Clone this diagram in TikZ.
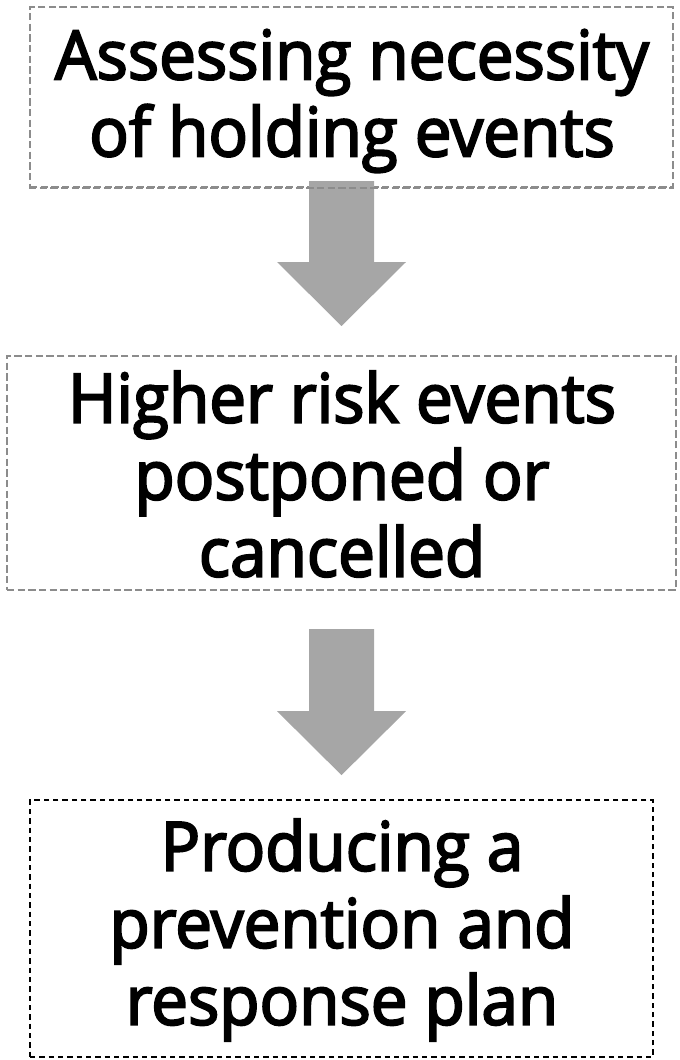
\documentclass[tikz,border=0pt]{standalone}
\usepackage{fontspec}
\setmainfont{Open Sans}
\newfontfamily\boxfont{Open Sans}[FakeBold=3, FakeStretch=0.965]
\usetikzlibrary{calc}
\definecolor{boxgray}{HTML}{8C8C8C}
\definecolor{arrowgray}{HTML}{A6A6A6}
\tikzset{
  graybox/.style={draw=boxgray, line width=1.5pt, dash pattern=on 5.5pt off 2.5pt, rectangle, inner sep=0pt},
  blackbox/.style={draw=black, line width=1.3pt, dash pattern=on 4pt off 3pt, rectangle, inner sep=0pt},
  boxtext/.style={align=center, font=\boxfont\fontsize{51}{57.75}\selectfont, inner sep=0pt},
  blockarrow/.style={fill=arrowgray, draw=none}
}
\begin{document}
\begin{tikzpicture}[x=0.75pt,y=-0.75pt]
\useasboundingbox (0,0) rectangle (679,1060);
% boxes
\node[graybox, minimum width=643*0.75pt, minimum height=180*0.75pt] (b1) at (351.5,97) {};
\node[graybox, minimum width=669*0.75pt, minimum height=234*0.75pt] (b2) at (341.5,473) {};
\node[blackbox, minimum width=623*0.75pt, minimum height=257*0.75pt] (b3) at (341.5,928.5) {};
% arrows
\fill[blockarrow] ($(b2.north)+(-32.5,-174)$) -- ($(b2.north)+(32.5,-174)$) -- ($(b2.north)+(32.5,-93)$)
  -- ($(b2.north)+(64.5,-93)$) -- ($(b2.north)+(0,-29)$) -- ($(b2.north)+(-64.5,-93)$)
  -- ($(b2.north)+(-32.5,-93)$) -- cycle;
\fill[blockarrow] ($(b3.north)+(-32.5,-170)$) -- ($(b3.north)+(32.5,-170)$) -- ($(b3.north)+(32.5,-88)$)
  -- ($(b3.north)+(64.5,-88)$) -- ($(b3.north)+(0,-24)$) -- ($(b3.north)+(-64.5,-88)$)
  -- ($(b3.north)+(-32.5,-88)$) -- cycle;
% redraw box1 border on top of arrow
\draw[draw=boxgray, line width=1.5pt, dash pattern=on 5.5pt off 2.5pt] (b1.south west) -- (b1.south east);
% texts
\node[boxtext] (t1) at (352,101) {Assessing necessity\\of holding events};
\node[boxtext] (t2) at (342,474) {Higher risk events\\postponed or\\cancelled};
\node[boxtext] (t3) at (342,930) {Producing a\\prevention and\\response plan};
\end{tikzpicture}
\end{document}
